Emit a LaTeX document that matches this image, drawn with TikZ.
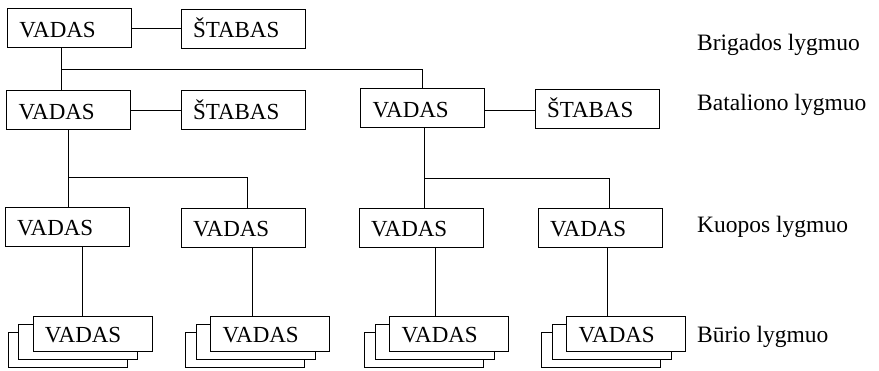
\documentclass[tikz,border=0pt]{standalone}
\usepackage{fontspec}
\setmainfont{Liberation Serif}
\begin{document}
\begin{tikzpicture}[x=1pt,y=-1pt,
  box/.style={draw, line width=0.9pt, fill=white, inner xsep=12pt, inner ysep=0pt,
    text width=100pt, align=left, minimum height=39pt,
    text height=18.5pt, text depth=0pt, font=\fontsize{23}{23}\selectfont},
  sbox/.style={box, text width=95pt, minimum height=35pt},
  lvl/.style={anchor=west, inner sep=0pt, font=\fontsize{23.5}{24}\selectfont},
  conn/.style={line width=0.9pt}]
\useasboundingbox (0,0) rectangle (879,371);

% brigade
\node[box] (bV) at (69.5,28) {VADAS};
\node[box] (bS) at (243,28.5) {ŠTABAS};
% battalion
\node[box] (tLV) at (68.5,110) {VADAS};
\node[box] (tLS) at (243,110) {ŠTABAS};
\node[box] (tRV) at (422.5,108) {VADAS};
\node[box] (tRS) at (597,108.5) {ŠTABAS};
% company
\node[box] (k1) at (67,226.5) {VADAS};
\node[box] (k2) at (243,227.5) {VADAS};
\node[box] (k3) at (421,227.5) {VADAS};
\node[box] (k4) at (600,227.5) {VADAS};

% platoon stacks: back, middle, front
\foreach \n/\fx in {s1/92.5, s2/270, s3/449, s4/626}{
  \node[sbox] (\n b) at (\fx-25,349.5) {};
  \node[sbox] (\n m) at (\fx-14.5,341.5) {};
}
\node[sbox] (s1) at (92.5,333.5) {VADAS};
\node[sbox] (s2) at (270,333.5) {VADAS};
\node[sbox] (s3) at (449,333.5) {VADAS};
\node[sbox] (s4) at (626,333.5) {VADAS};

% level labels
\node[lvl] (L1) at (697,45) {Brigados lygmuo};
\node[lvl] (L2) at (697,105) {Bataliono lygmuo};
\node[lvl] (L3) at (697,227) {Kuopos lygmuo};
\node[lvl] (L4) at (697,337) {Būrio lygmuo};

% connectors
\draw[conn] (bV.east |- 0,28) -- (bS.west |- 0,28);
\draw[conn] (tLV.east |- 0,110) -- (tLS.west |- 0,110);
\draw[conn] (tRV.east |- 0,110) -- (tRS.west |- 0,110);

\coordinate (j0) at (61,69);
\coordinate (j0r) at (422,69);
\draw[conn] (bV.south -| j0) -- (tLV.north -| j0);
\draw[conn] (j0) -- (j0r) -- (tRV.north -| j0r);

\coordinate (j1) at (68,177);
\coordinate (j1r) at (247,177);
\draw[conn] (tLV.south -| j1) -- (k1.north -| j1);
\draw[conn] (j1) -- (j1r) -- (k2.north -| j1r);

\coordinate (j2) at (424,178);
\coordinate (j2r) at (609,178);
\draw[conn] (tRV.south -| j2) -- (k3.north -| j2);
\draw[conn] (j2) -- (j2r) -- (k4.north -| j2r);

\coordinate (v1) at (82,0);
\coordinate (v2) at (252,0);
\coordinate (v3) at (435,0);
\coordinate (v4) at (607,0);
\draw[conn] (k1.south -| v1) -- (s1.north -| v1);
\draw[conn] (k2.south -| v2) -- (s2.north -| v2);
\draw[conn] (k3.south -| v3) -- (s3.north -| v3);
\draw[conn] (k4.south -| v4) -- (s4.north -| v4);
\end{tikzpicture}
\end{document}
